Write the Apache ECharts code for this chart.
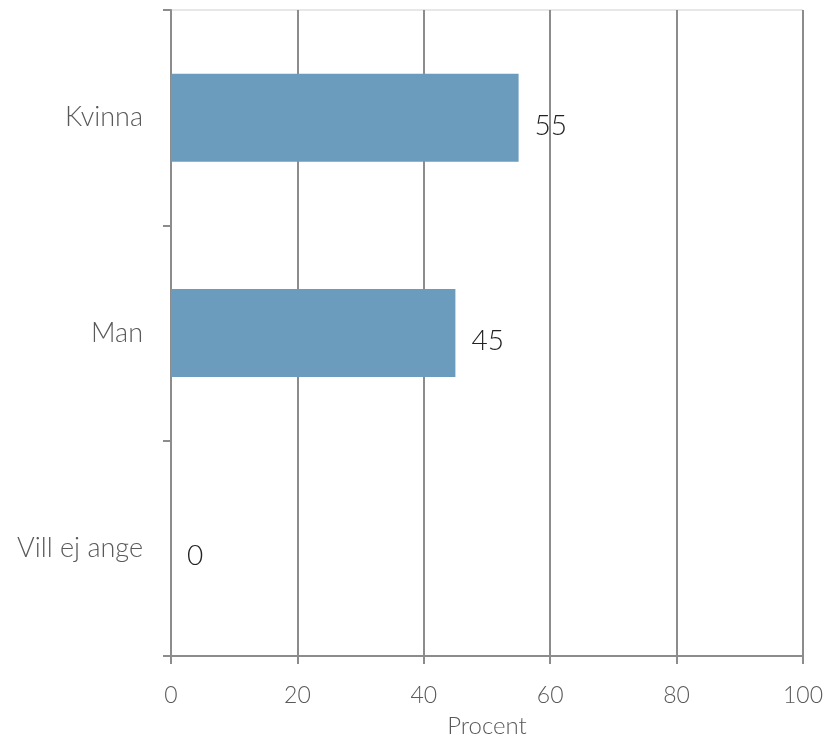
<!DOCTYPE html>
<html>
<head>
<meta charset="utf-8">
<script src="https://cdn.jsdelivr.net/npm/echarts@6/dist/echarts.min.js"></script>
<style>
html,body{margin:0;padding:0;background:#fff;}
#chart{width:827px;height:742px;}
</style>
</head>
<body>
<div id="chart"></div>
<script>
const categories = ['Kvinna', 'Man', 'Vill ej ange'];
const values = [55, 45, 0];
const xTicks = [0, 20, 40, 60, 80, 100];
const xAxisTitle = 'Procent';

const FONT = 'Lato';
const chart = echarts.init(document.getElementById('chart'), null, {renderer: 'canvas'});
chart.setOption({
  animation: false,
  backgroundColor: '#ffffff',
  grid: {left: 171, right: 24, top: 10, bottom: 86, show: true, borderColor: '#cfcfcf', borderWidth: 1,
    containLabel: false, outerBoundsMode: 'none'},
  xAxis: {
    type: 'value', min: xTicks[0], max: xTicks[xTicks.length - 1], interval: 20,
    name: xAxisTitle, nameLocation: 'middle', nameGap: 58,
    nameTextStyle: {fontFamily: FONT, fontWeight: 300, fontSize: 24, color: '#595959'},
    axisLine: {show: true, lineStyle: {color: '#8c8c8c', width: 2}},
    axisTick: {show: true, length: 8, lineStyle: {color: '#8c8c8c', width: 2}},
    axisLabel: {margin: 28, fontFamily: FONT, fontWeight: 300, fontSize: 23, color: '#595959'},
    splitLine: {show: true, lineStyle: {color: '#8c8c8c', width: 2}}
  },
  yAxis: {
    type: 'category', data: categories, inverse: true,
    axisLine: {show: true, lineStyle: {color: '#8c8c8c', width: 2}},
    axisTick: {show: true, length: 8, lineStyle: {color: '#8c8c8c', width: 2}},
    axisLabel: {margin: 28, fontFamily: FONT, fontWeight: 300, fontSize: 27, color: '#595959'},
    splitLine: {show: false}
  },
  series: [{
    type: 'bar', data: values, barWidth: 88,
    itemStyle: {color: '#6b9cbd'},
    label: {show: true, position: 'right', distance: 16, offset: [0, 8],
      fontFamily: FONT, fontWeight: 300, fontSize: 28, color: '#222222'}
  }]
});
</script>
</body>
</html>
